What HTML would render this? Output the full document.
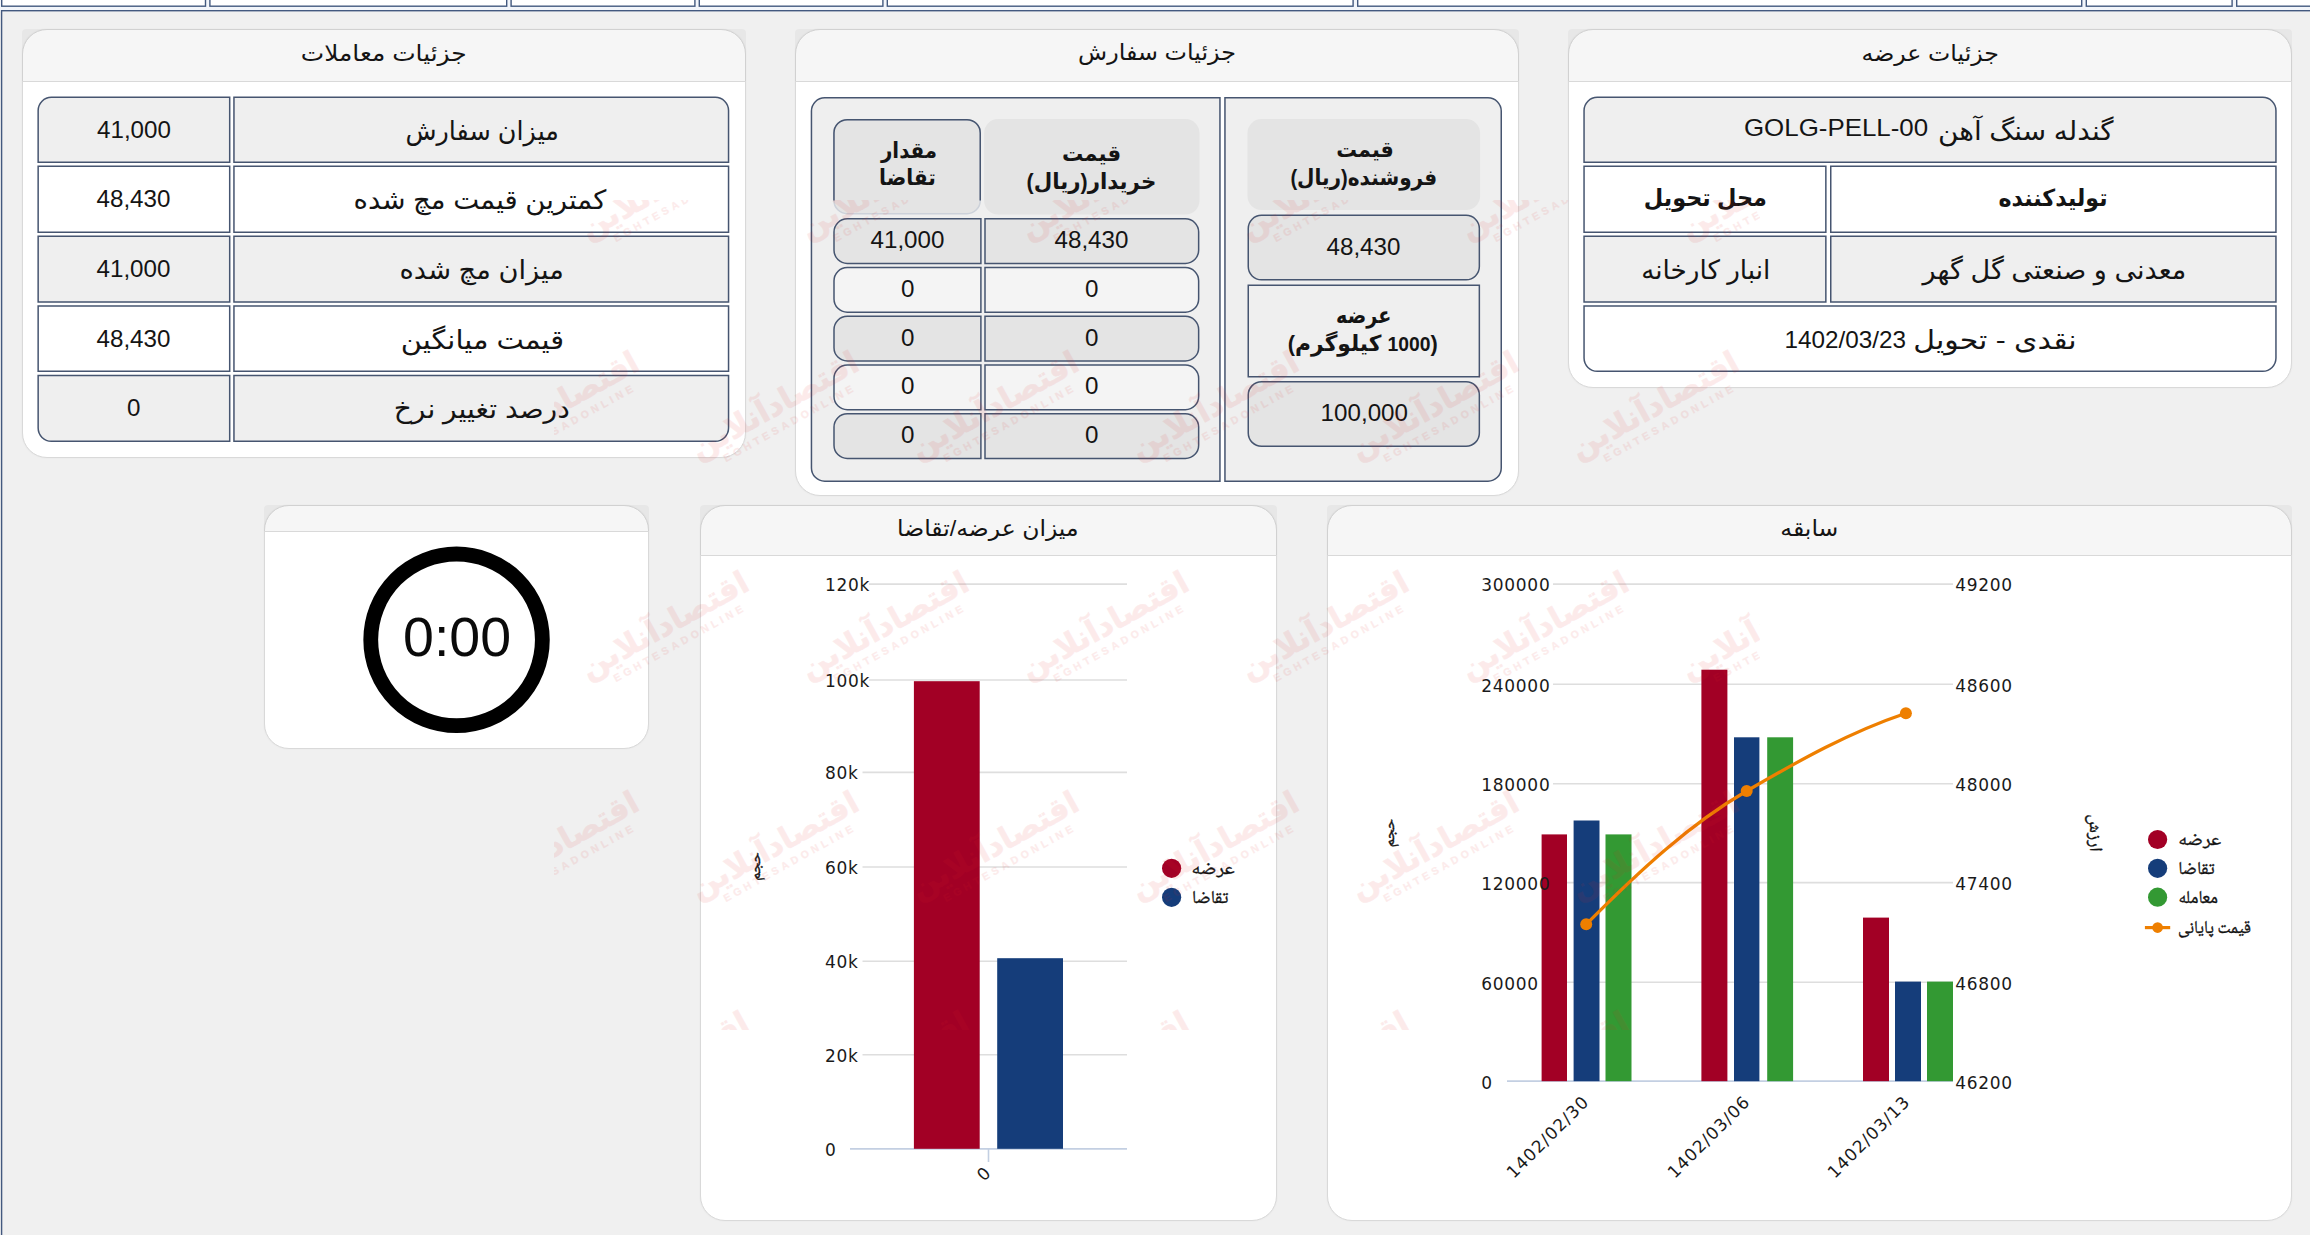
<!DOCTYPE html>
<html lang="fa"><head><meta charset="utf-8"><title>جزئیات عرضه</title><style>
*{box-sizing:border-box}
html,body{margin:0;padding:0}
body{width:2310px;height:1235px;overflow:hidden;position:relative;background:#f0f0f0;font-family:"Liberation Sans","DejaVu Sans",sans-serif;color:#141414}
.abs{position:absolute}
.card{position:absolute;background:#fff;border:1px solid #d9d9d9;border-radius:25px;box-shadow:0 0 2px rgba(0,0,0,.06)}
.chead{position:absolute;left:-1px;top:-1px;right:-1px;border-radius:4px 4px 0 0;background:rgba(0,0,0,.035);border-bottom:1px solid #d9d9d9;display:flex;align-items:center;justify-content:center;font-size:22.5px;direction:rtl;white-space:nowrap}
.c{position:absolute;z-index:2;display:flex;align-items:center;justify-content:center;text-align:center;white-space:nowrap;font-size:24.5px;direction:rtl}
.t{display:inline-block;white-space:nowrap;transform-origin:50% 50%}
.fa{font-size:26.5px}
.b{font-weight:bold;font-size:22px}
.b3{font-size:23.5px}
.b .num{font-size:19.5px}
.num{direction:ltr;unicode-bidi:isolate;font-size:24.5px}
.ml{line-height:27.5px}
svg text{font-family:"DejaVu Sans","Liberation Sans",sans-serif}
svg text.leg{font-family:"Noto Naskh Arabic","FreeSerif","DejaVu Sans",serif}
.wmwrap{position:absolute;left:554px;top:200px;width:1206px;height:830px;overflow:hidden;z-index:5;pointer-events:none}
.wm{position:absolute;width:200px;height:50px;color:#e02626;opacity:.09;font-family:"DejaVu Sans",sans-serif;font-weight:bold;direction:rtl;white-space:nowrap;transform:rotate(-29deg);transform-origin:50% 50%;text-align:center;font-size:31px;line-height:38px;-webkit-text-stroke:.6px #e02626}
.wm i{display:block;font-style:normal;font-family:"Liberation Sans",sans-serif;font-size:10.5px;line-height:12px;letter-spacing:3.7px;direction:ltr;margin-top:-2px;-webkit-text-stroke:.3px #e02626;padding-left:10px}
</style></head><body>
<svg class="abs" style="left:0;top:0" width="2310" height="1235" viewBox="0 0 2310 1235"><rect x="0" y="0" width="2310" height="12" fill="#f2f5fa"/><rect x="1.7" y="-5" width="203.8" height="11.2" fill="#fff" stroke="#43597f" stroke-width="1.4"/><rect x="209.9" y="-5" width="296.8" height="11.2" fill="#fff" stroke="#43597f" stroke-width="1.4"/><rect x="511.1" y="-5" width="183.8" height="11.2" fill="#fff" stroke="#43597f" stroke-width="1.4"/><rect x="699.3" y="-5" width="183.6" height="11.2" fill="#fff" stroke="#43597f" stroke-width="1.4"/><rect x="887.3" y="-5" width="465.8" height="11.2" fill="#fff" stroke="#43597f" stroke-width="1.4"/><rect x="1357.7" y="-5" width="724.0" height="11.2" fill="#fff" stroke="#43597f" stroke-width="1.4"/><rect x="2086.3" y="-5" width="145.8" height="11.2" fill="#fff" stroke="#43597f" stroke-width="1.4"/><rect x="2236.7" y="-5" width="82.6" height="11.2" fill="#fff" stroke="#43597f" stroke-width="1.4"/><rect x="1.6" y="10.7" width="2330" height="1300" fill="#f0f0f0" stroke="#43597f" stroke-width="1.4"/></svg>
<div class="card" style="left:21.6px;top:29.2px;width:724px;height:428.8px"><div class="chead" style="height:52.6px"><span id="t_moamelat" class="t " style="transform:translate(-0.30px,-1.05px) scaleX(1.1057)">جزئیات معاملات</span></div>
</div>
<div class="c " style="left:37.40px;top:96.55px;width:193.05px;height:66.50px"><div><span id="c1_v0" class="t num" style="transform:translate(0.50px,-0.30px) scaleX(0.9865)">41,000</span></div></div>
<div class="c " style="left:233.20px;top:96.55px;width:496.10px;height:66.50px"><div><span id="c1_l0" class="t fa" style="transform:translate(1.30px,0.80px) scaleX(0.9603)">میزان سفارش</span></div></div>
<div class="c " style="left:37.40px;top:165.55px;width:193.05px;height:67.50px"><div><span id="c1_v1" class="t num" style="transform:translate(0.00px,-0.30px) scaleX(0.9860)">48,430</span></div></div>
<div class="c " style="left:233.20px;top:165.55px;width:496.10px;height:67.50px"><div><span id="c1_l1" class="t fa" style="transform:translate(-0.80px,0.80px) scaleX(1.0384)">کمترین قیمت مچ شده</span></div></div>
<div class="c " style="left:37.40px;top:235.55px;width:193.05px;height:67.20px"><div><span id="c1_v2" class="t num" style="transform:translate(0.00px,-0.30px) scaleX(0.9860)">41,000</span></div></div>
<div class="c " style="left:233.20px;top:235.55px;width:496.10px;height:67.20px"><div><span id="c1_l2" class="t fa" style="transform:translate(0.90px,0.80px) scaleX(1.0296)">میزان مچ شده</span></div></div>
<div class="c " style="left:37.40px;top:305.25px;width:193.05px;height:66.80px"><div><span id="c1_v3" class="t num" style="transform:translate(0.00px,-0.30px) scaleX(0.9860)">48,430</span></div></div>
<div class="c " style="left:233.20px;top:305.25px;width:496.10px;height:66.80px"><div><span id="c1_l3" class="t fa" style="transform:translate(1.50px,0.80px) scaleX(1.0916)">قیمت میانگین</span></div></div>
<div class="c " style="left:37.40px;top:374.65px;width:193.05px;height:67.40px"><div><span id="c1_v4" class="t num" style="transform:translate(0.00px,-0.30px) scaleX(0.9860)">0</span></div></div>
<div class="c " style="left:233.20px;top:374.65px;width:496.10px;height:67.40px"><div><span id="c1_l4" class="t fa" style="transform:translate(0.90px,0.80px) scaleX(1.0631)">درصد تغییر نرخ</span></div></div>
<div class="card" style="left:1567.6px;top:29.2px;width:724px;height:358.5px"><div class="chead" style="height:52.6px"><span id="t_arze" class="t " style="transform:translate(0.90px,-1.00px) scaleX(1.0513)">جزئیات عرضه</span></div>
</div>
<div class="c " style="left:1583.30px;top:96.55px;width:693.40px;height:66.50px"><div><span id="c3_gondele" class="t fa" style="transform:translate(5.30px,0.80px) scaleX(1.0521)">گندله سنگ آهن</span> <span id="c3_golg" class="t num" style="transform:translate(-7.10px,-2.65px) scaleX(1.0567)">GOLG-PELL-00</span></div></div>
<div class="c " style="left:1583.30px;top:165.55px;width:243.30px;height:67.50px"><div><span id="c3_mahal" class="t fa b b3" style="transform:translate(0.70px,-1.50px) scaleX(0.9524)">محل تحویل</span></div></div>
<div class="c " style="left:1830.00px;top:165.55px;width:446.70px;height:67.50px"><div><span id="c3_tolid" class="t fa b b3" style="transform:translate(0.00px,-1.50px) scaleX(0.9411)">تولیدکننده</span></div></div>
<div class="c " style="left:1583.30px;top:235.55px;width:243.30px;height:67.20px"><div><span id="c3_anbar" class="t fa" style="transform:translate(0.50px,0.80px) scaleX(0.9890)">انبار کارخانه</span></div></div>
<div class="c " style="left:1830.00px;top:235.55px;width:446.70px;height:67.20px"><div><span id="c3_madani" class="t fa" style="transform:translate(1.40px,0.80px) scaleX(1.0216)">معدنی و صنعتی گل گهر</span></div></div>
<div class="c " style="left:1583.30px;top:305.25px;width:693.40px;height:66.80px"><div><span id="c3_naghdi" class="t fa" style="transform:translate(0.70px,0.80px) scaleX(1.1299)">نقدی - تحویل</span> <span id="c3_date" class="t num" style="transform:translate(-9.10px,-0.30px) scaleX(0.9916)">1402/03/23</span></div></div>
<div class="card" style="left:794.6px;top:29.2px;width:724px;height:466.8px"><div class="chead" style="height:52.6px"><span id="t_sefaresh" class="t " style="transform:translate(0.50px,-1.95px) scaleX(1.0590)">جزئیات سفارش</span></div>
</div>


<div class="c ml" style="left:833.20px;top:118.90px;width:147.80px;height:90.20px"><div><span id="c2_meghdar" class="t fa b" style="transform:translate(1.80px,1.20px) scaleX(0.8981)">مقدار</span><br><span id="c2_taghaza" class="t fa b" style="transform:translate(0.60px,-0.80px) scaleX(0.9187)">تقاضا</span></div></div>
<div class="c ml" style="left:984.10px;top:119.10px;width:215.40px;height:95.40px"><div><span id="c2_gheymat1" class="t fa b" style="transform:translate(-0.20px,0.80px) scaleX(0.9641)">قیمت</span><br><span id="c2_kharidar" class="t fa b" style="transform:translate(-0.40px,0.00px) scaleX(0.9705)">خریدار(ریال)</span></div></div>
<div class="c " style="left:833.25px;top:218.05px;width:148.40px;height:46.10px"><div><span id="c2_a0" class="t num" style="transform:translate(0.00px,-1.40px) scaleX(0.9860)">41,000</span></div></div>
<div class="c " style="left:984.25px;top:218.05px;width:215.15px;height:46.10px"><div><span id="c2_b0" class="t num" style="transform:translate(0.00px,-1.40px) scaleX(0.9860)">48,430</span></div></div>
<div class="c " style="left:833.25px;top:266.80px;width:148.40px;height:46.10px"><div><span id="c2_a1" class="t num" style="transform:translate(0.00px,-1.40px) scaleX(0.9860)">0</span></div></div>
<div class="c " style="left:984.25px;top:266.80px;width:215.15px;height:46.10px"><div><span id="c2_b1" class="t num" style="transform:translate(0.00px,-1.40px) scaleX(0.9860)">0</span></div></div>
<div class="c " style="left:833.25px;top:315.55px;width:148.40px;height:46.10px"><div><span id="c2_a2" class="t num" style="transform:translate(0.00px,-1.40px) scaleX(0.9860)">0</span></div></div>
<div class="c " style="left:984.25px;top:315.55px;width:215.15px;height:46.10px"><div><span id="c2_b2" class="t num" style="transform:translate(0.00px,-1.40px) scaleX(0.9860)">0</span></div></div>
<div class="c " style="left:833.25px;top:364.30px;width:148.40px;height:46.10px"><div><span id="c2_a3" class="t num" style="transform:translate(0.00px,-1.40px) scaleX(0.9860)">0</span></div></div>
<div class="c " style="left:984.25px;top:364.30px;width:215.15px;height:46.10px"><div><span id="c2_b3" class="t num" style="transform:translate(0.00px,-1.40px) scaleX(0.9860)">0</span></div></div>
<div class="c " style="left:833.25px;top:413.05px;width:148.40px;height:46.10px"><div><span id="c2_a4" class="t num" style="transform:translate(0.00px,-1.40px) scaleX(0.9860)">0</span></div></div>
<div class="c " style="left:984.25px;top:413.05px;width:215.15px;height:46.10px"><div><span id="c2_b4" class="t num" style="transform:translate(0.00px,-1.40px) scaleX(0.9860)">0</span></div></div>
<div class="c ml" style="left:1247.50px;top:119.10px;width:232.60px;height:91.00px"><div><span id="c2_gheymat2" class="t fa b" style="transform:translate(1.30px,-0.80px) scaleX(0.9398)">قیمت</span><br><span id="c2_forush" class="t fa b" style="transform:translate(0.30px,-2.00px) scaleX(0.9121)">فروشنده(ریال)</span></div></div>
<div class="c " style="left:1247.50px;top:214.60px;width:232.60px;height:66.00px"><div><span id="c2_p" class="t num" style="transform:translate(0.00px,-1.40px) scaleX(0.9860)">48,430</span></div></div>
<div class="c ml" style="left:1247.50px;top:284.40px;width:232.60px;height:93.20px"><div><span id="c2_arze" class="t fa b" style="transform:translate(0.00px,-0.80px) scaleX(0.8700)">عرضه</span><br><span id="c2_kilo" class="t fa b" style="transform:translate(-0.90px,-1.20px) scaleX(0.9898)">(<span class="num">1000</span> کیلوگرم)</span></div></div>
<div class="c " style="left:1247.50px;top:381.00px;width:232.60px;height:66.00px"><div><span id="c2_q" class="t num" style="transform:translate(0.00px,-1.00px) scaleX(0.9860)">100,000</span></div></div>
<div class="card" style="left:263.6px;top:505.2px;width:385.8px;height:244px"><div class="chead" style="height:27.3px"></div>
<svg class="abs" style="left:0;top:0" width="386" height="243" viewBox="0 0 386 243"><circle cx="191.55" cy="133.8" r="85.8" fill="none" stroke="#000" stroke-width="14.8"/><text x="192.1" y="149.7" text-anchor="middle" font-size="55.5" fill="#0a0a0a" style="font-family:'Liberation Sans',sans-serif">0:00</text></svg>
</div>
<div class="card" style="left:699.5px;top:505.2px;width:577.2px;height:716px"><div class="chead" style="height:51.2px"><span id="t_mizan" class="t " style="transform:translate(-0.20px,-1.70px) scaleX(1.0427)">میزان عرضه/تقاضا</span></div>
</div>
<div class="card" style="left:1326.6px;top:505.2px;width:965px;height:716px"><div class="chead" style="height:51.2px"><span id="t_sabeghe" class="t " style="transform:translate(0.60px,-1.75px) scaleX(1.0469)">سابقه</span></div>
</div>
<svg class="abs" style="left:0;top:0;z-index:1" width="2310" height="1235" viewBox="0 0 2310 1235"><path d="M51.40 97.30L229.70 97.30L229.70 162.30L38.15 162.30L38.15 110.55A13.25 13.25 0 0 1 51.40 97.30Z" fill="#efefef" stroke="#465570" stroke-width="1.5"/><path d="M233.95 97.30L715.30 97.30A13.25 13.25 0 0 1 728.55 110.55L728.55 162.30L233.95 162.30L233.95 97.30Z" fill="#efefef" stroke="#465570" stroke-width="1.5"/><path d="M38.15 166.30L229.70 166.30L229.70 232.30L38.15 232.30L38.15 166.30Z" fill="#ffffff" stroke="#465570" stroke-width="1.5"/><path d="M233.95 166.30L728.55 166.30L728.55 232.30L233.95 232.30L233.95 166.30Z" fill="#ffffff" stroke="#465570" stroke-width="1.5"/><path d="M38.15 236.30L229.70 236.30L229.70 302.00L38.15 302.00L38.15 236.30Z" fill="#efefef" stroke="#465570" stroke-width="1.5"/><path d="M233.95 236.30L728.55 236.30L728.55 302.00L233.95 302.00L233.95 236.30Z" fill="#efefef" stroke="#465570" stroke-width="1.5"/><path d="M38.15 306.00L229.70 306.00L229.70 371.30L38.15 371.30L38.15 306.00Z" fill="#ffffff" stroke="#465570" stroke-width="1.5"/><path d="M233.95 306.00L728.55 306.00L728.55 371.30L233.95 371.30L233.95 306.00Z" fill="#ffffff" stroke="#465570" stroke-width="1.5"/><path d="M38.15 375.40L229.70 375.40L229.70 441.30L51.40 441.30A13.25 13.25 0 0 1 38.15 428.05L38.15 375.40Z" fill="#efefef" stroke="#465570" stroke-width="1.5"/><path d="M233.95 375.40L728.55 375.40L728.55 428.05A13.25 13.25 0 0 1 715.30 441.30L233.95 441.30L233.95 375.40Z" fill="#efefef" stroke="#465570" stroke-width="1.5"/><path d="M1597.30 97.30L2262.70 97.30A13.25 13.25 0 0 1 2275.95 110.55L2275.95 162.30L1584.05 162.30L1584.05 110.55A13.25 13.25 0 0 1 1597.30 97.30Z" fill="#efefef" stroke="#465570" stroke-width="1.5"/><path d="M1584.05 166.30L1825.85 166.30L1825.85 232.30L1584.05 232.30L1584.05 166.30Z" fill="#ffffff" stroke="#465570" stroke-width="1.5"/><path d="M1830.75 166.30L2275.95 166.30L2275.95 232.30L1830.75 232.30L1830.75 166.30Z" fill="#ffffff" stroke="#465570" stroke-width="1.5"/><path d="M1584.05 236.30L1825.85 236.30L1825.85 302.00L1584.05 302.00L1584.05 236.30Z" fill="#efefef" stroke="#465570" stroke-width="1.5"/><path d="M1830.75 236.30L2275.95 236.30L2275.95 302.00L1830.75 302.00L1830.75 236.30Z" fill="#efefef" stroke="#465570" stroke-width="1.5"/><path d="M1584.05 306.00L2275.95 306.00L2275.95 358.05A13.25 13.25 0 0 1 2262.70 371.30L1597.30 371.30A13.25 13.25 0 0 1 1584.05 358.05L1584.05 306.00Z" fill="#ffffff" stroke="#465570" stroke-width="1.5"/><path d="M824.70 97.85L1219.95 97.85L1219.95 481.15L824.70 481.15A13.25 13.25 0 0 1 811.45 467.90L811.45 111.10A13.25 13.25 0 0 1 824.70 97.85Z" fill="#efefef" stroke="#465570" stroke-width="1.5"/><path d="M1224.95 97.85L1488.00 97.85A13.25 13.25 0 0 1 1501.25 111.10L1501.25 467.90A13.25 13.25 0 0 1 1488.00 481.15L1224.95 481.15L1224.95 97.85Z" fill="#efefef" stroke="#465570" stroke-width="1.5"/><path d="M847.20 119.65L967.00 119.65A13.25 13.25 0 0 1 980.25 132.90L980.25 200.40A13.25 13.25 0 0 1 967.00 213.65L847.20 213.65A13.25 13.25 0 0 1 833.95 200.40L833.95 132.90A13.25 13.25 0 0 1 847.20 119.65Z" fill="#e4e4e4" stroke="#cdd2da" stroke-width="1.5"/><path d="M833.95 200.40L833.95 132.90A13.25 13.25 0 0 1 847.20 119.65L967.00 119.65A13.25 13.25 0 0 1 980.25 132.90L980.25 200.40" fill="none" stroke="#465570" stroke-width="1.5"/><path d="M998.10 119.10L1185.50 119.10A14 14 0 0 1 1199.50 133.10L1199.50 200.50A14 14 0 0 1 1185.50 214.50L998.10 214.50A14 14 0 0 1 984.10 200.50L984.10 133.10A14 14 0 0 1 998.10 119.10Z" fill="#e4e4e4"/><path d="M847.25 218.80L980.90 218.80L980.90 263.40L847.25 263.40A13.25 13.25 0 0 1 834.00 250.15L834.00 232.05A13.25 13.25 0 0 1 847.25 218.80Z" fill="#e4e4e4" stroke="#465570" stroke-width="1.5"/><path d="M985.00 218.80L1185.40 218.80A13.25 13.25 0 0 1 1198.65 232.05L1198.65 250.15A13.25 13.25 0 0 1 1185.40 263.40L985.00 263.40L985.00 218.80Z" fill="#e4e4e4" stroke="#465570" stroke-width="1.5"/><path d="M847.25 267.55L980.90 267.55L980.90 312.15L847.25 312.15A13.25 13.25 0 0 1 834.00 298.90L834.00 280.80A13.25 13.25 0 0 1 847.25 267.55Z" fill="#f4f4f4" stroke="#465570" stroke-width="1.5"/><path d="M985.00 267.55L1185.40 267.55A13.25 13.25 0 0 1 1198.65 280.80L1198.65 298.90A13.25 13.25 0 0 1 1185.40 312.15L985.00 312.15L985.00 267.55Z" fill="#f4f4f4" stroke="#465570" stroke-width="1.5"/><path d="M847.25 316.30L980.90 316.30L980.90 360.90L847.25 360.90A13.25 13.25 0 0 1 834.00 347.65L834.00 329.55A13.25 13.25 0 0 1 847.25 316.30Z" fill="#e4e4e4" stroke="#465570" stroke-width="1.5"/><path d="M985.00 316.30L1185.40 316.30A13.25 13.25 0 0 1 1198.65 329.55L1198.65 347.65A13.25 13.25 0 0 1 1185.40 360.90L985.00 360.90L985.00 316.30Z" fill="#e4e4e4" stroke="#465570" stroke-width="1.5"/><path d="M847.25 365.05L980.90 365.05L980.90 409.65L847.25 409.65A13.25 13.25 0 0 1 834.00 396.40L834.00 378.30A13.25 13.25 0 0 1 847.25 365.05Z" fill="#f4f4f4" stroke="#465570" stroke-width="1.5"/><path d="M985.00 365.05L1185.40 365.05A13.25 13.25 0 0 1 1198.65 378.30L1198.65 396.40A13.25 13.25 0 0 1 1185.40 409.65L985.00 409.65L985.00 365.05Z" fill="#f4f4f4" stroke="#465570" stroke-width="1.5"/><path d="M847.25 413.80L980.90 413.80L980.90 458.40L847.25 458.40A13.25 13.25 0 0 1 834.00 445.15L834.00 427.05A13.25 13.25 0 0 1 847.25 413.80Z" fill="#e4e4e4" stroke="#465570" stroke-width="1.5"/><path d="M985.00 413.80L1185.40 413.80A13.25 13.25 0 0 1 1198.65 427.05L1198.65 445.15A13.25 13.25 0 0 1 1185.40 458.40L985.00 458.40L985.00 413.80Z" fill="#e4e4e4" stroke="#465570" stroke-width="1.5"/><path d="M1261.50 119.10L1466.10 119.10A14 14 0 0 1 1480.10 133.10L1480.10 196.10A14 14 0 0 1 1466.10 210.10L1261.50 210.10A14 14 0 0 1 1247.50 196.10L1247.50 133.10A14 14 0 0 1 1261.50 119.10Z" fill="#e4e4e4"/><path d="M1261.50 215.35L1466.10 215.35A13.25 13.25 0 0 1 1479.35 228.60L1479.35 266.60A13.25 13.25 0 0 1 1466.10 279.85L1261.50 279.85A13.25 13.25 0 0 1 1248.25 266.60L1248.25 228.60A13.25 13.25 0 0 1 1261.50 215.35Z" fill="#e4e4e4" stroke="#465570" stroke-width="1.5"/><path d="M1248.25 285.15L1479.35 285.15L1479.35 376.85L1248.25 376.85L1248.25 285.15Z" fill="#efefef" stroke="#465570" stroke-width="1.5"/><path d="M1261.50 381.75L1466.10 381.75A13.25 13.25 0 0 1 1479.35 395.00L1479.35 433.00A13.25 13.25 0 0 1 1466.10 446.25L1261.50 446.25A13.25 13.25 0 0 1 1248.25 433.00L1248.25 395.00A13.25 13.25 0 0 1 1261.50 381.75Z" fill="#e4e4e4" stroke="#465570" stroke-width="1.5"/></svg>
<svg class="abs" style="left:0;top:0;z-index:1" width="2310" height="1235" viewBox="0 0 2310 1235"><line x1="850" x2="1127" y1="584.1" y2="584.1" stroke="#dedede" stroke-width="1.6"/><line x1="850" x2="1127" y1="680.0" y2="680.0" stroke="#dedede" stroke-width="1.6"/><line x1="850" x2="1127" y1="772.4" y2="772.4" stroke="#dedede" stroke-width="1.6"/><line x1="850" x2="1127" y1="867.0" y2="867.0" stroke="#dedede" stroke-width="1.6"/><line x1="850" x2="1127" y1="961.2" y2="961.2" stroke="#dedede" stroke-width="1.6"/><line x1="850" x2="1127" y1="1054.7" y2="1054.7" stroke="#dedede" stroke-width="1.6"/><line x1="850" x2="1127" y1="1148.8" y2="1148.8" stroke="#c3cfe2" stroke-width="1.8"/><line x1="988.5" x2="988.5" y1="1148.8" y2="1162" stroke="#c3cfe2" stroke-width="1.6"/><rect x="822" y="574.1" width="47" height="20" fill="#fff"/><text x="824.9" y="590.9" font-size="17" letter-spacing=".7" fill="#1a1a1a">120k</text><rect x="822" y="670.0" width="47" height="20" fill="#fff"/><text x="824.9" y="686.8" font-size="17" letter-spacing=".7" fill="#1a1a1a">100k</text><rect x="822" y="762.4" width="40.5" height="20" fill="#fff"/><text x="824.9" y="779.1999999999999" font-size="17" letter-spacing=".7" fill="#1a1a1a">80k</text><rect x="822" y="857.0" width="40.5" height="20" fill="#fff"/><text x="824.9" y="873.8" font-size="17" letter-spacing=".7" fill="#1a1a1a">60k</text><rect x="822" y="951.2" width="40.5" height="20" fill="#fff"/><text x="824.9" y="968.0" font-size="17" letter-spacing=".7" fill="#1a1a1a">40k</text><rect x="822" y="1044.7" width="40.5" height="20" fill="#fff"/><text x="824.9" y="1061.5" font-size="17" letter-spacing=".7" fill="#1a1a1a">20k</text><rect x="822" y="1138.8" width="20" height="20" fill="#fff"/><text x="824.9" y="1155.6" font-size="17" letter-spacing=".7" fill="#1a1a1a">0</text><rect x="913.9" y="681.2" width="65.8" height="467.6" fill="#a20025"/><rect x="997.2" y="958.2" width="65.8" height="190.6" fill="#153d7a"/><text transform="translate(983.5,1174) rotate(-45)" font-size="17" text-anchor="middle" fill="#1a1a1a" y="6">0</text><circle cx="1171.6" cy="868.3" r="9.6" fill="#a20025"/><circle cx="1171.6" cy="897.3" r="9.6" fill="#153d7a"/><text class="leg" x="1234.6" y="874" font-size="18" direction="rtl" text-anchor="start" fill="#111" stroke="#111" stroke-width=".35" textLength="43" lengthAdjust="spacingAndGlyphs">عرضه</text><text class="leg" x="1228.4" y="903" font-size="18" direction="rtl" text-anchor="start" fill="#111" stroke="#111" stroke-width=".35" textLength="36.5" lengthAdjust="spacingAndGlyphs">تقاضا</text><text class="leg" transform="translate(759.6,866.5) rotate(-90)" font-size="15.5" stroke="#111" stroke-width=".35" text-anchor="middle" fill="#111">حجم</text><line x1="1507" x2="1953" y1="584.1" y2="584.1" stroke="#dedede" stroke-width="1.6"/><line x1="1507" x2="1953" y1="684.2" y2="684.2" stroke="#dedede" stroke-width="1.6"/><line x1="1507" x2="1953" y1="783.7" y2="783.7" stroke="#dedede" stroke-width="1.6"/><line x1="1507" x2="1953" y1="882.6" y2="882.6" stroke="#dedede" stroke-width="1.6"/><line x1="1507" x2="1953" y1="982.2" y2="982.2" stroke="#dedede" stroke-width="1.6"/><line x1="1507" x2="1953" y1="1081.2" y2="1081.2" stroke="#c3cfe2" stroke-width="1.8"/><rect x="1479" y="574.1" width="74" height="20" fill="#fff"/><rect x="1479" y="674.2" width="74" height="20" fill="#fff"/><rect x="1479" y="773.7" width="74" height="20" fill="#fff"/><rect x="1479" y="872.6" width="74" height="20" fill="#fff"/><rect x="1479" y="972.2" width="63" height="20" fill="#fff"/><rect x="1479" y="1071.2" width="19" height="20" fill="#fff"/><text x="1955.2" y="591.4" font-size="17" letter-spacing=".7" fill="#1a1a1a">49200</text><text x="1955.2" y="691.5" font-size="17" letter-spacing=".7" fill="#1a1a1a">48600</text><text x="1955.2" y="791.0" font-size="17" letter-spacing=".7" fill="#1a1a1a">48000</text><text x="1955.2" y="889.9" font-size="17" letter-spacing=".7" fill="#1a1a1a">47400</text><text x="1955.2" y="989.5" font-size="17" letter-spacing=".7" fill="#1a1a1a">46800</text><text x="1955.2" y="1088.5" font-size="17" letter-spacing=".7" fill="#1a1a1a">46200</text><rect x="1541.6" y="834.4" width="25.4" height="246.8" fill="#a20025"/><rect x="1573.6" y="820.5" width="25.9" height="260.7" fill="#153d7a"/><rect x="1605.5" y="834.4" width="26.0" height="246.8" fill="#339933"/><rect x="1701.4" y="669.7" width="26.0" height="411.5" fill="#a20025"/><rect x="1734" y="737.3" width="25.4" height="343.9" fill="#153d7a"/><rect x="1767.2" y="737.3" width="25.9" height="343.9" fill="#339933"/><rect x="1863" y="917.6" width="26.0" height="163.6" fill="#a20025"/><rect x="1895" y="981.6" width="26.0" height="99.6" fill="#153d7a"/><rect x="1927" y="981.6" width="26.0" height="99.6" fill="#339933"/><text x="1481.3" y="591.4" font-size="17" letter-spacing=".7" fill="#1a1a1a">300000</text><text x="1481.3" y="691.5" font-size="17" letter-spacing=".7" fill="#1a1a1a">240000</text><text x="1481.3" y="791.0" font-size="17" letter-spacing=".7" fill="#1a1a1a">180000</text><text x="1481.3" y="889.9" font-size="17" letter-spacing=".7" fill="#1a1a1a">120000</text><text x="1481.3" y="989.5" font-size="17" letter-spacing=".7" fill="#1a1a1a">60000</text><text x="1481.3" y="1088.5" font-size="17" letter-spacing=".7" fill="#1a1a1a">0</text><path d="M1586.2 924.3 C1640 870,1690 824,1746.7 791 C1800 760,1850 732,1905.9 713.2" fill="none" stroke="#ee7f00" stroke-width="3.2"/><circle cx="1586.2" cy="924.3" r="6" fill="#ee7f00"/><circle cx="1746.7" cy="791" r="6" fill="#ee7f00"/><circle cx="1905.9" cy="713.2" r="6" fill="#ee7f00"/><text transform="translate(1590,1103) rotate(-45)" font-size="17" text-anchor="end" fill="#1a1a1a" letter-spacing="1">1402/02/30</text><text transform="translate(1751,1103) rotate(-45)" font-size="17" text-anchor="end" fill="#1a1a1a" letter-spacing="1">1402/03/06</text><text transform="translate(1911,1103) rotate(-45)" font-size="17" text-anchor="end" fill="#1a1a1a" letter-spacing="1">1402/03/13</text><circle cx="2157.6" cy="839.5" r="9.6" fill="#a20025"/><circle cx="2157.6" cy="868.3" r="9.6" fill="#153d7a"/><circle cx="2157.6" cy="897.2" r="9.6" fill="#339933"/><line x1="2144.9" x2="2170.2" y1="927.6" y2="927.6" stroke="#ee7f00" stroke-width="3.2"/><circle cx="2157.6" cy="927.6" r="5.3" fill="#ee7f00"/><text class="leg" x="2221.2" y="845" font-size="18" direction="rtl" text-anchor="start" fill="#111" stroke="#111" stroke-width=".35" textLength="43" lengthAdjust="spacingAndGlyphs">عرضه</text><text class="leg" x="2214.7" y="874" font-size="18" direction="rtl" text-anchor="start" fill="#111" stroke="#111" stroke-width=".35" textLength="36.5" lengthAdjust="spacingAndGlyphs">تقاضا</text><text class="leg" x="2217.9" y="903" font-size="18" direction="rtl" text-anchor="start" fill="#111" stroke="#111" stroke-width=".35" textLength="39.5" lengthAdjust="spacingAndGlyphs">معامله</text><text class="leg" x="2251" y="933" font-size="18" direction="rtl" text-anchor="start" fill="#111" stroke="#111" stroke-width=".35" textLength="73" lengthAdjust="spacingAndGlyphs">قیمت پایانی</text><text class="leg" transform="translate(1393.9,833) rotate(-90)" font-size="15.5" stroke="#111" stroke-width=".35" text-anchor="middle" fill="#111">حجم</text><text class="leg" transform="translate(2089.5,833) rotate(90)" font-size="18.5" stroke="#111" stroke-width=".3" text-anchor="middle" fill="#111">ارزش</text></svg>
<div class="wmwrap"><div class="wm" style="left:13px;top:-35px">اقتصادآنلاین<i>EGHTESADONLINE</i></div><div class="wm" style="left:233px;top:-35px">اقتصادآنلاین<i>EGHTESADONLINE</i></div><div class="wm" style="left:453px;top:-35px">اقتصادآنلاین<i>EGHTESADONLINE</i></div><div class="wm" style="left:673px;top:-35px">اقتصادآنلاین<i>EGHTESADONLINE</i></div><div class="wm" style="left:893px;top:-35px">اقتصادآنلاین<i>EGHTESADONLINE</i></div><div class="wm" style="left:1113px;top:-35px">اقتصادآنلاین<i>EGHTESADONLINE</i></div><div class="wm" style="left:-97px;top:185px">اقتصادآنلاین<i>EGHTESADONLINE</i></div><div class="wm" style="left:123px;top:185px">اقتصادآنلاین<i>EGHTESADONLINE</i></div><div class="wm" style="left:343px;top:185px">اقتصادآنلاین<i>EGHTESADONLINE</i></div><div class="wm" style="left:563px;top:185px">اقتصادآنلاین<i>EGHTESADONLINE</i></div><div class="wm" style="left:783px;top:185px">اقتصادآنلاین<i>EGHTESADONLINE</i></div><div class="wm" style="left:1003px;top:185px">اقتصادآنلاین<i>EGHTESADONLINE</i></div><div class="wm" style="left:13px;top:405px">اقتصادآنلاین<i>EGHTESADONLINE</i></div><div class="wm" style="left:233px;top:405px">اقتصادآنلاین<i>EGHTESADONLINE</i></div><div class="wm" style="left:453px;top:405px">اقتصادآنلاین<i>EGHTESADONLINE</i></div><div class="wm" style="left:673px;top:405px">اقتصادآنلاین<i>EGHTESADONLINE</i></div><div class="wm" style="left:893px;top:405px">اقتصادآنلاین<i>EGHTESADONLINE</i></div><div class="wm" style="left:1113px;top:405px">اقتصادآنلاین<i>EGHTESADONLINE</i></div><div class="wm" style="left:-97px;top:625px">اقتصادآنلاین<i>EGHTESADONLINE</i></div><div class="wm" style="left:123px;top:625px">اقتصادآنلاین<i>EGHTESADONLINE</i></div><div class="wm" style="left:343px;top:625px">اقتصادآنلاین<i>EGHTESADONLINE</i></div><div class="wm" style="left:563px;top:625px">اقتصادآنلاین<i>EGHTESADONLINE</i></div><div class="wm" style="left:783px;top:625px">اقتصادآنلاین<i>EGHTESADONLINE</i></div><div class="wm" style="left:1003px;top:625px">اقتصادآنلاین<i>EGHTESADONLINE</i></div><div class="wm" style="left:13px;top:845px">اقتصادآنلاین<i>EGHTESADONLINE</i></div><div class="wm" style="left:233px;top:845px">اقتصادآنلاین<i>EGHTESADONLINE</i></div><div class="wm" style="left:453px;top:845px">اقتصادآنلاین<i>EGHTESADONLINE</i></div><div class="wm" style="left:673px;top:845px">اقتصادآنلاین<i>EGHTESADONLINE</i></div><div class="wm" style="left:893px;top:845px">اقتصادآنلاین<i>EGHTESADONLINE</i></div><div class="wm" style="left:1113px;top:845px">اقتصادآنلاین<i>EGHTESADONLINE</i></div></div>
</body></html>
